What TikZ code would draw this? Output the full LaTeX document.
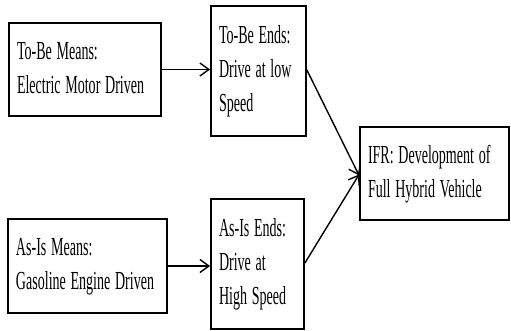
\documentclass[tikz,border=0pt]{standalone}
\usepackage{fontspec}
\usepackage{graphicx}
\usetikzlibrary{arrows.meta}
\setmainfont{Liberation Serif}
% narrow, tall lettering for the box captions
\newcommand{\boxtext}[1]{\scalebox{0.54}[1]{\begin{tabular}{@{}l@{}}#1\end{tabular}}}
\begin{document}
\begin{tikzpicture}[x=1pt,y=-1pt,
  box/.style={draw, line width=1.8pt, inner xsep=8pt, inner ysep=0pt, align=left,
    font=\fontsize{26}{34}\selectfont, anchor=center},
  link/.style={line width=1.4pt, -{Straight Barb[length=9pt,width=13pt,line width=1.4pt]}}]
  \useasboundingbox (0,0) rectangle (511,331);
  \node[box, text width=136pt, minimum height=93pt] (tbm) at (85,69.5)
    {\boxtext{To-Be Means:\\Electric Motor Driven}};
  \node[box, text width=79pt, minimum height=130pt] (tbe) at (258.5,71)
    {\boxtext{To-Be Ends:\\Drive at low\\Speed}};
  \node[box, text width=133pt, minimum height=93pt] (ifr) at (434.5,173.5)
    {\boxtext{IFR: Development of\\Full Hybrid Vehicle}};
  \node[box, text width=77pt, minimum height=130pt] (aie) at (257.5,264)
    {\boxtext{As-Is Ends:\\Drive at\\High Speed}};
  \node[box, text width=143pt, minimum height=94pt] (aim) at (87.5,266)
    {\boxtext{As-Is Means:\\Gasoline Engine Driven}};
  \draw[link] (tbm.east) -- (tbm.east -| tbe.west);
  \draw[link] (aim.east) -- (aim.east -| aie.west);
  \draw[link] (tbe.east |- 0,70) -- ([yshift=-2pt]ifr.west);
  \draw[link] (aie.east |- 0,263) -- ([yshift=-1pt]ifr.west);
\end{tikzpicture}
\end{document}
